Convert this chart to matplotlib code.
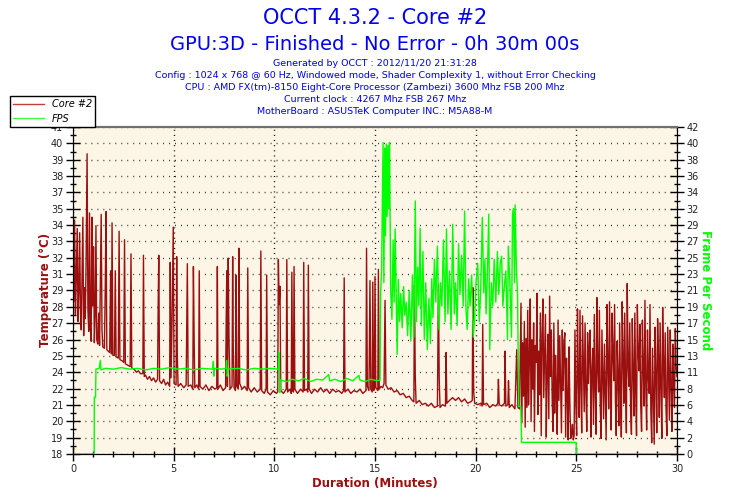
import matplotlib
matplotlib.use("Agg")
import matplotlib.pyplot as plt
from matplotlib.lines import Line2D
import numpy as np

# Header text
title_main = "OCCT 4.3.2 - Core #2"
title_sub = "GPU:3D - Finished - No Error - 0h 30m 00s"
info_lines = [
    "Generated by OCCT : 2012/11/20 21:31:28",
    "Config : 1024 x 768 @ 60 Hz, Windowed mode, Shader Complexity 1, without Error Checking",
    "CPU : AMD FX(tm)-8150 Eight-Core Processor (Zambezi) 3600 Mhz FSB 200 Mhz",
    "Current clock : 4267 Mhz FSB 267 Mhz",
    "MotherBoard : ASUSTeK Computer INC.: M5A88-M",
]

# Axis labels as OCCT prints them
temp_labels = ['18', '19', '20', '21', '22', '24', '25', '26', '27', '28', '29',
               '31', '32', '33', '34', '35', '37', '38', '39', '40', '41']
fps_labels = ['0', '2', '4', '6', '8', '11', '13', '15', '17', '19', '21',
              '23', '25', '27', '29', '32', '34', '36', '38', '40', '42']
x_labels = ['0', '5', '10', '15', '20', '25', '30']

# Core #2 temperature (minutes, deg C)
core_warmup = [
    (0.00, 35.8), (0.04, 28.8), (0.08, 34.6), (0.12, 27.9), (0.16, 30.2), (0.21, 34.0),
    (0.25, 27.4), (0.29, 29.5), (0.33, 33.7), (0.37, 28.2), (0.41, 26.8), (0.45, 31.0),
    (0.49, 34.8), (0.53, 26.4), (0.57, 29.8), (0.61, 27.6), (0.65, 31.5), (0.70, 39.3),
    (0.74, 28.3), (0.78, 26.7), (0.82, 35.1), (0.86, 27.0), (0.90, 26.0), (0.94, 34.8),
    (0.98, 28.5), (1.02, 32.7), (1.06, 25.9), (1.10, 27.8), (1.14, 34.2), (1.18, 26.1),
    (1.23, 25.8), (1.28, 28.0), (1.32, 25.7), (1.40, 35.0), (1.44, 26.8), (1.48, 25.6),
    (1.56, 25.5), (1.60, 29.5), (1.64, 35.2), (1.68, 25.4), (1.75, 25.3), (1.82, 25.2),
    (1.87, 31.0), (1.91, 25.1), (1.94, 34.4), (1.98, 25.0), (2.06, 25.0), (2.10, 31.0),
    (2.14, 24.9), (2.25, 24.8), (2.29, 33.8), (2.33, 24.7), (2.45, 24.6), (2.52, 24.5),
    (2.56, 33.2), (2.60, 24.4), (2.72, 24.3), (2.84, 24.2), (2.88, 32.2), (2.92, 24.1),
    (3.05, 24.0), (3.15, 23.8), (3.25, 23.9), (3.35, 23.7), (3.47, 23.7), (3.50, 32.1),
    (3.54, 23.5),
]
core_idle = [
    (3.60, 23.6), (3.70, 23.3), (3.80, 23.5), (3.90, 23.2), (4.00, 23.4), (4.10, 23.1),
    (4.20, 23.3), (4.23, 28.4), (4.26, 32.1), (4.30, 23.2), (4.40, 23.0), (4.50, 23.3),
    (4.60, 22.9), (4.70, 23.1), (4.80, 22.8), (4.83, 31.6), (4.87, 23.4), (4.92, 27.5),
    (4.98, 34.1), (5.02, 23.0), (5.12, 22.9), (5.15, 32.0), (5.18, 25.0), (5.22, 22.8),
    (5.35, 23.0), (5.50, 22.7), (5.62, 22.9), (5.68, 31.5), (5.72, 22.8), (5.85, 22.9),
    (5.95, 22.6), (5.98, 31.3), (6.02, 25.8), (6.05, 22.7), (6.15, 22.9), (6.24, 22.6),
    (6.27, 31.0), (6.31, 22.8), (6.45, 22.6), (6.60, 22.9), (6.75, 22.5), (6.90, 22.8),
    (7.05, 22.6), (7.14, 22.7), (7.17, 31.3), (7.20, 22.6), (7.32, 22.9), (7.45, 22.5),
    (7.58, 22.7), (7.61, 27.6), (7.64, 31.0), (7.67, 22.8), (7.71, 31.9), (7.75, 26.0),
    (7.80, 22.6), (7.90, 22.8), (7.93, 32.0), (7.96, 25.5), (8.00, 22.7), (8.07, 22.5),
    (8.10, 30.7), (8.14, 22.8), (8.21, 22.6), (8.24, 32.6), (8.28, 23.0), (8.40, 22.6),
    (8.52, 22.8), (8.65, 22.5), (8.68, 31.2), (8.72, 22.7), (8.85, 22.4), (9.00, 22.7),
    (9.15, 22.4), (9.30, 22.6), (9.33, 32.4), (9.37, 22.5), (9.50, 22.3), (9.59, 22.6),
    (9.62, 30.7), (9.66, 22.4), (9.80, 22.2), (9.95, 22.5), (10.10, 22.3), (10.17, 22.4),
    (10.20, 31.8), (10.24, 28.6), (10.28, 29.9), (10.32, 22.5), (10.45, 22.3), (10.59, 22.6),
    (10.62, 31.8), (10.66, 22.4), (10.78, 22.6), (10.84, 22.3), (10.87, 30.9), (10.91, 22.5),
    (10.95, 22.4), (10.98, 31.3), (11.02, 22.6), (11.15, 22.3), (11.30, 22.6), (11.43, 22.4),
    (11.46, 31.6), (11.50, 22.5), (11.60, 22.6), (11.66, 22.4), (11.69, 31.4), (11.73, 22.6),
    (11.85, 22.3), (12.00, 22.6), (12.15, 22.4), (12.30, 22.7), (12.45, 22.4), (12.60, 22.6),
    (12.75, 22.3), (12.90, 22.6), (13.05, 22.4), (13.20, 22.5), (13.35, 22.3), (13.44, 22.5),
    (13.47, 30.5), (13.51, 22.4), (13.65, 22.6), (13.80, 22.3), (13.95, 22.5), (14.10, 22.4),
    (14.25, 22.6), (14.40, 22.3), (14.55, 22.5), (14.58, 32.6), (14.62, 22.8), (14.70, 22.5),
    (14.75, 30.3), (14.79, 22.6), (14.86, 22.4), (14.89, 30.2), (14.93, 22.5), (14.97, 22.6),
    (15.00, 30.6), (15.04, 22.7), (15.14, 22.5), (15.17, 31.1), (15.21, 22.6), (15.30, 22.8),
]
core_gpu = [
    (15.38, 22.7), (15.45, 23.0), (15.50, 28.9), (15.54, 22.9), (15.65, 22.6), (15.80, 22.7),
    (15.95, 22.4), (16.10, 22.5), (16.25, 22.2), (16.40, 22.3), (16.55, 22.0), (16.70, 22.1),
    (16.85, 21.8), (16.93, 21.7), (16.96, 30.0), (17.00, 23.5), (17.04, 21.6), (17.20, 21.8),
    (17.35, 21.5), (17.50, 21.6), (17.65, 21.4), (17.80, 21.6), (17.95, 21.3), (18.10, 21.4),
    (18.15, 30.0), (18.19, 23.3), (18.23, 21.3), (18.35, 21.5), (18.50, 21.4), (18.53, 25.2),
    (18.57, 21.6), (18.70, 21.8), (18.85, 22.0), (19.00, 21.8), (19.15, 22.0), (19.30, 21.7),
    (19.45, 21.9), (19.60, 21.6), (19.75, 21.7), (19.83, 21.8), (19.86, 29.8), (19.90, 22.4),
    (19.95, 21.6), (20.10, 21.5), (20.25, 21.6), (20.32, 21.4), (20.35, 27.2), (20.39, 21.5),
    (20.55, 21.6), (20.70, 21.3), (20.85, 21.5), (21.00, 21.4), (21.10, 21.6), (21.13, 23.3),
    (21.17, 21.5), (21.30, 21.4), (21.43, 21.6), (21.46, 25.3), (21.50, 21.4), (21.60, 21.5),
    (21.63, 23.2), (21.67, 21.3), (21.80, 21.5), (21.95, 21.2), (22.04, 25.4), (22.10, 21.3),
    (22.18, 21.2),
]
# full-load part, one reading per sample from 22.25 to 30 min
core_load = [
    28.7, 20.2, 25.9, 22.1, 27.4, 19.9, 26.2, 21.3, 28.2, 21.5,
    24.8, 29.0, 20.3, 26.1, 22.6, 27.3, 19.6, 25.7, 24.5, 29.4,
    20.8, 25.3, 22.2, 28.0, 19.3, 26.4, 29.0, 22.0, 25.1, 27.9,
    19.2, 23.8, 26.5, 20.5, 29.2, 23.5, 26.8, 21.9, 19.6, 27.3,
    20.9, 25.0, 22.7, 19.4, 27.5, 21.8, 26.4, 23.0, 19.5, 26.8,
    22.5, 25.9, 26.6, 19.2, 24.8, 22.1, 19.0, 25.6, 21.4, 19.1,
    19.4, 20.1, 19.0, 19.3, 26.8, 21.7, 19.3, 28.3, 23.4, 20.6,
    28.2, 22.8, 19.5, 27.8, 24.6, 21.0, 27.3, 22.4, 19.6, 26.6,
    23.0, 25.4, 26.8, 19.2, 23.9, 25.5, 20.1, 27.9, 22.6, 19.4,
    29.1, 24.0, 22.4, 28.2, 21.5, 19.1, 26.8, 23.6, 20.5, 25.8,
    22.3, 19.0, 28.6, 24.4, 21.2, 28.8, 22.9, 19.7, 28.0, 25.1,
    23.2, 28.6, 21.8, 19.3, 26.0, 23.7, 20.0, 27.3, 22.5, 19.2,
    28.8, 24.7, 21.6, 28.0, 22.9, 19.5, 30.1, 24.3, 22.8, 27.3,
    21.1, 19.4, 27.6, 23.8, 20.7, 28.0, 22.6, 19.3, 28.6, 25.2,
    23.9, 27.2, 21.4, 19.6, 27.5, 24.1, 21.4, 28.9, 22.8, 19.7,
    26.8, 23.5, 22.3, 28.6, 21.0, 18.8, 25.5, 22.2, 18.7, 27.0,
    23.6, 19.5, 27.6, 24.9, 20.6, 27.3, 22.7, 19.1, 28.4, 24.4,
    22.0, 26.6, 21.2, 19.3, 27.0, 23.8, 20.4, 26.8, 22.9, 19.6,
    25.8, 23.0, 21.3, 26.9, 24.2, 23.5,
]

# FPS (minutes, frames per second)
fps_pts = [
    (0.00, 0.0), (1.05, 0.0), (1.06, 7.3), (1.12, 7.3), (1.14, 10.9), (1.30, 11.0),
    (1.36, 12.0), (1.39, 10.8), (1.60, 11.0), (2.00, 10.9), (2.40, 11.1), (2.80, 10.9),
    (3.20, 11.0), (3.60, 10.8), (4.00, 11.0), (4.40, 10.9), (4.80, 11.1), (5.20, 10.9),
    (5.60, 11.0), (6.00, 10.8), (6.40, 11.0), (6.94, 10.9), (6.97, 11.9), (7.00, 10.0),
    (7.04, 11.0), (7.40, 10.9), (7.60, 11.0), (7.63, 12.0), (7.66, 10.0), (7.70, 10.9),
    (8.20, 11.0), (8.60, 10.8), (9.00, 11.0), (9.40, 10.9), (9.80, 11.0), (10.20, 10.9),
    (10.24, 13.0), (10.27, 7.9), (10.30, 9.5), (10.60, 9.3), (10.90, 9.6), (11.20, 9.4),
    (11.50, 9.7), (11.80, 9.3), (12.10, 9.6), (12.40, 9.5), (12.70, 10.2), (12.75, 9.4),
    (13.00, 9.6), (13.30, 9.3), (13.60, 9.7), (13.90, 9.4), (14.20, 10.1), (14.25, 9.5),
    (14.50, 9.3), (14.80, 9.6), (15.10, 9.4), (15.25, 9.5),
    (15.28, 20.7), (15.33, 24.0), (15.40, 40.0), (15.44, 22.0), (15.48, 39.3), (15.52, 28.0),
    (15.56, 39.8), (15.60, 30.5), (15.64, 39.6), (15.68, 31.5), (15.72, 40.0), (15.78, 21.0),
    (15.84, 17.3), (15.90, 27.5), (15.95, 19.5), (16.00, 28.9), (16.05, 20.5), (16.10, 12.8),
    (16.16, 22.4), (16.22, 17.0), (16.28, 20.6), (16.35, 16.2), (16.42, 21.5), (16.48, 17.8),
    (16.55, 19.5), (16.62, 15.2), (16.70, 21.0), (16.78, 14.5), (16.86, 23.0), (16.93, 15.0),
    (17.00, 32.5), (17.06, 17.0), (17.12, 24.0), (17.18, 19.0), (17.24, 29.0), (17.30, 16.5),
    (17.38, 26.0), (17.45, 14.7), (17.52, 22.0), (17.60, 13.4), (17.68, 20.0), (17.75, 14.2),
    (17.82, 22.5), (17.88, 17.5), (17.95, 25.0), (18.02, 19.5), (18.10, 26.7), (18.18, 16.0),
    (18.25, 22.0), (18.32, 19.0), (18.40, 27.5), (18.48, 17.0), (18.55, 28.9), (18.62, 18.0),
    (18.70, 23.5), (18.78, 16.0), (18.86, 29.5), (18.94, 18.0), (19.00, 22.0), (19.08, 16.5),
    (19.15, 27.0), (19.22, 20.5), (19.30, 25.5), (19.38, 19.0), (19.45, 31.2), (19.52, 18.5),
    (19.58, 16.0), (19.65, 22.5), (19.72, 19.0), (19.80, 23.0), (19.88, 15.0), (19.95, 17.5),
    (20.02, 22.0), (20.10, 24.5), (20.18, 17.0), (20.25, 21.0), (20.33, 30.4), (20.40, 20.7),
    (20.46, 25.0), (20.52, 18.0), (20.58, 23.0), (20.65, 30.8), (20.70, 13.4), (20.78, 22.0),
    (20.85, 19.0), (20.92, 25.0), (21.00, 19.5), (21.08, 26.0), (21.15, 20.5), (21.22, 24.5),
    (21.29, 25.4), (21.35, 19.0), (21.42, 21.5), (21.50, 23.5), (21.58, 14.7), (21.62, 26.7),
    (21.70, 22.0), (21.78, 15.0), (21.83, 30.8), (21.88, 31.5), (21.93, 22.0), (21.96, 32.0),
    (22.02, 24.0), (22.08, 20.5), (22.14, 6.1), (22.24, 6.1), (22.28, 1.5), (24.99, 1.5),
    (25.00, 0.0), (30.00, 0.0),
]

core_t = [p[0] for p in core_warmup + core_idle + core_gpu] + list(np.linspace(22.25, 30.0, len(core_load)))
core_v = [p[1] for p in core_warmup + core_idle + core_gpu] + core_load
fps_t = [p[0] for p in fps_pts]
fps_v = [p[1] for p in fps_pts]

red = '#9B0F0F'
green = '#00FF00'
blue = '#0000EE'

fig = plt.figure(figsize=(7.5, 5), dpi=100)
fig.patch.set_facecolor('white')

ax = fig.add_axes([73 / 750, 46 / 500, 604 / 750, 327 / 500])
ax.set_facecolor('#FDF5E6')
ax.plot(core_t, core_v, color=red, lw=1)
ax.set_xlim(0, 30)
ax.set_ylim(18, 41.2)

ax2 = ax.twinx()
ax2.plot(fps_t, fps_v, color=green, lw=1)
ax2.set_ylim(0, 42)

# ticks
temp_pos = 18 + 1.16 * np.arange(21)
ax.set_yticks(temp_pos, temp_labels)
ax.set_yticks(temp_pos[:-1] + 0.58, minor=True)
ax.set_xticks(np.arange(0, 31, 5), x_labels)
ax.set_xticks(np.arange(0, 31, 1), minor=True)
fps_pos = 2.1 * np.arange(21)
ax2.set_yticks(fps_pos, fps_labels)
ax2.set_yticks(fps_pos[:-1] + 1.05, minor=True)

for a in (ax, ax2):
    a.tick_params(which='major', direction='inout', length=10, width=1,
                  labelsize=7, labelcolor='#222222', pad=2)
    a.tick_params(which='minor', direction='inout', length=5, width=1)

ax.grid(axis='y', which='major', linestyle=(0, (0.7, 3.6)), color='#303030', lw=1)
ax.grid(axis='x', which='major', linestyle=(0, (0.7, 3.0)), color='black', lw=1)

for a in (ax, ax2):
    a.spines['top'].set_color('#707070')
    a.spines['top'].set_linewidth(1.5)
    for s in ('left', 'right', 'bottom'):
        a.spines[s].set_color('black')

# titles and info
fig.text(0.5, 1 - 18 / 500, title_main, ha='center', va='center', fontsize=15, color=blue)
fig.text(0.5, 1 - 44 / 500, title_sub, ha='center', va='center', fontsize=14, color=blue)
for i, line in enumerate(info_lines):
    fig.text(0.5, 1 - (64 + 12 * i) / 500, line, ha='center', va='center',
             fontsize=6.8, color=blue)

fig.text(45 / 750, 1 - 290 / 500, 'Temperature (°C)', rotation=90, ha='center', va='center',
         fontsize=8.5, fontweight='bold', color=red)
fig.text(706 / 750, 1 - 290 / 500, 'Frame Per Second', rotation=270, ha='center', va='center',
         fontsize=8.5, fontweight='bold', color=green)
fig.text(375 / 750, 1 - 484 / 500, 'Duration (Minutes)', ha='center', va='center',
         fontsize=8.5, fontweight='bold', color=red)

handles = [Line2D([], [], color='#C04040', lw=1), Line2D([], [], color='#40FF40', lw=1)]
leg = fig.legend(handles, ['Core #2', 'FPS'], loc='upper left',
                 bbox_to_anchor=(10 / 750, 1 - 96 / 500), frameon=True, fancybox=False,
                 edgecolor='black', framealpha=1, prop={'style': 'italic', 'size': 7},
                 handlelength=3.2, borderpad=0.3, labelspacing=0.5, handletextpad=0.8,
                 borderaxespad=0)
leg.get_frame().set_linewidth(1)

fig.savefig('out.png', dpi=100)
